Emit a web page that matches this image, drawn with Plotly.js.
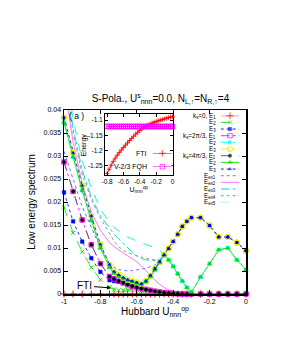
<!DOCTYPE html>
<html><head><meta charset="utf-8">
<script src="https://cdn.plot.ly/plotly-3.0.1.min.js"></script>
<style>html,body{margin:0;padding:0;background:#fff}#chart{width:284px;height:349px}</style>
</head><body><div id="chart"></div>
<script>
// ---------- main panel data ----------
const xMain = [-1,-0.95,-0.9,-0.85,-0.8,-0.75,-0.725,-0.7,-0.675,-0.65,-0.625,-0.6,-0.575,-0.55,-0.525,-0.5,-0.475,-0.45,-0.425,-0.4,-0.375,-0.35,-0.325,-0.3,-0.25,-0.2,-0.15,-0.1,-0.05,0];
const yE1k0 = [0,0,0,0,0,0,0,0,0,0,0,0,0,0,0,0,0,0,0,0,0,0,0,0,0,0,0,0,0,0];
const yE2k0 = [0.0188,0.0133,0.0092,0.0058,0.0031,0.0015,0.0010,0.0008,0.0008,0.0009,0.0010,0.0009,0.0007,0.0004,0.0002,0.0001,0,0,0,0,0,0,0,0,0,0,0,0,0,0];
const yE3k0 = [0.0221,0.0158,0.0114,0.0078,0.0048,0.0030,0.0028,0.0027,0.0026,0.0025,0.0024,0.0022,0.0020,0.0027,0.0040,0.0055,0.0070,0.0085,0.0099,0.0114,0.0130,0.0147,0.0158,0.0166,0.0166,0.0149,0.0124,0.0124,0.0112,0.0094];
const yE1k2 = [0.0287,0.0223,0.0161,0.0107,0.0066,0.0038,0.0033,0.0028,0.0024,0.0020,0.0017,0.0014,0.0012,0.0010,0.0008,0.0006,0.00045,0.0003,0.0002,0.0001,0.00005,0,0,0,0,0,0,0,0,0];
const yE2k2 = [0.0373,0.0298,0.0225,0.0160,0.0100,0.0058,0.0045,0.0038,0.0033,0.0029,0.0026,0.0023,0.0021,0.0026,0.0038,0.0052,0.0068,0.0086,0.0074,0.0060,0.0044,0.0028,0.0014,0.0004,0.0037,0.0066,0.0096,0.0100,0.0074,0.0053];
const yE3k2 = [0.0384,0.0307,0.0236,0.0170,0.0108,0.0064,0.0049,0.0042,0.0036,0.0031,0.0028,0.0025,0.0022,0.0028,0.0040,0.0055,0.0070,0.0085,0.0099,0.0114,0.0130,0.0147,0.0158,0.0166,0.0166,0.0149,0.0124,0.0124,0.0112,0.0094];
const yE1k4 = yE1k2.slice();
const yE2k4 = yE2k2.slice();
const yE3k4 = yE3k2.slice();
const yEex1 = [0.031,0.025,0.019,0.0145,0.0100,0.0068,0.0058,0.0053,0.0051,0.0050,0.0051,0.0052,0.0054,0.0056,0.0059,0.0063,0.0070,0.0085];
const yEex2 = [0.046,0.033,0.024,0.0178,0.0138,0.0112,0.0103,0.0095,0.0089,0.0083,0.0077,0.0070,0.0061,0.0050,0.0040,0.0030,0.0021,0.0014,0.0009,0.0005,0.0002,0.0001,0,0,0,0,0,0,0,0];
const yEex3 = [0.050,0.036,0.027,0.021,0.0170,0.0142,0.0130,0.0120,0.0110,0.0100,0.0091,0.0083,0.0077,0.0074,0.0073,0.0073,0.0076,0.0085];
const yEex4 = [0.047,0.035,0.026,0.0205,0.0165,0.0130,0.0115,0.0103,0.0095,0.0090,0.0086,0.0083,0.0080,0.0078,0.0076,0.0074,0.0074,0.0085];
const yEex5 = [0.052,0.038,0.029,0.023,0.0185,0.0155,0.0145,0.0137,0.0130,0.0124,0.0119,0.0115,0.0111,0.0108,0.0105,0.0101,0.0096,0.0085];
const xTickVals = [-1,-0.8,-0.6,-0.4,-0.2,0];
const xTickText = ['-1','-0.8','-0.6','-0.4','-0.2','0'];
const yTickVals = [0,0.005,0.01,0.015,0.02,0.025,0.03,0.035,0.04];
const yTickText = ['0','0.005','0.01','0.015','0.02','0.025','0.03','0.035','0.04'];
const legendLabels = ['k<sub>s</sub>=0, E<sub>1</sub>','E<sub>2</sub>','E<sub>3</sub>','k<sub>s</sub>=2π/3, E<sub>1</sub>','E<sub>2</sub>','E<sub>3</sub>','k<sub>s</sub>=4π/3, E<sub>1</sub>','E<sub>2</sub>','E<sub>3</sub>','E<sub>ex1</sub>','E<sub>ex2</sub>','E<sub>ex3</sub>','E<sub>ex4</sub>','E<sub>ex5</sub>'];

// ---------- inset data ----------
const xInset = [-0.8,-0.775,-0.75,-0.725,-0.7,-0.675,-0.65,-0.625,-0.6,-0.575,-0.55,-0.525,-0.5,-0.475,-0.45,-0.425,-0.4,-0.375,-0.35,-0.325,-0.3,-0.275,-0.25,-0.225,-0.2,-0.175,-0.15,-0.125,-0.1,-0.075,-0.05,-0.025,0];
const yFTI = [-1.275,-1.261,-1.248,-1.236,-1.225,-1.215,-1.206,-1.198,-1.190,-1.182,-1.175,-1.167,-1.160,-1.153,-1.146,-1.140,-1.134,-1.129,-1.124,-1.120,-1.116,-1.113,-1.110,-1.107,-1.105,-1.102,-1.100,-1.098,-1.096,-1.094,-1.092,-1.090,-1.089];
const yFQH = [-1.121,-1.121,-1.121,-1.121,-1.121,-1.121,-1.121,-1.121,-1.121,-1.121,-1.121,-1.121,-1.121,-1.121,-1.121,-1.121,-1.121,-1.121,-1.121,-1.121,-1.121,-1.121,-1.121,-1.121,-1.121,-1.121,-1.121,-1.121,-1.121,-1.121,-1.121,-1.121,-1.121];
const insetLabels = ['FTI','V-2/3 FQH'];
const insetXTicks = [-0.8,-0.6,-0.4,-0.2,0];
const insetXText = ['-0.8','-0.6','-0.4','-0.2','0'];
const insetYTicks = [-1.25,-1.2,-1.15,-1.1];
const insetYText = ['-1.25','-1.2','-1.15','-1.1'];

// ---------- styles ----------
const styles = [
  {y:yE1k0, color:'#ff0000', dash:'solid',   sym:'cross-thin-open', size:5, lw:1},
  {y:yE2k0, color:'#00e000', dash:'dash',    sym:'x-thin-open',     size:4, lw:1},
  {y:yE3k0, color:'#0000ff', dash:'dot',     sym:'square',          size:3.5, lw:0.5},
  {y:yE1k2, color:'#ff00ff', dash:'dashdot', sym:'square-open',     size:4.5, lw:1},
  {y:yE2k2, color:'#00ffff', dash:'dashdot', sym:'square',          size:3.5, lw:0.5},
  {y:yE3k2, color:'#eeee00', dash:'dashdot', sym:'circle-open',     size:5, lw:1.3},
  {y:yE1k4, color:'#000000', dash:'dash',    sym:'circle',          size:3.5, lw:0.5, lcolor:'#555555'},
  {y:yE2k4, color:'#00e000', dash:'solid',   sym:'triangle-up',     size:4, lw:0.5},
  {y:yE3k4, color:'#0000ff', dash:'dot',     sym:'triangle-up',     size:3, lw:0.5},
  {y:yEex1, color:'#6060ff', dash:'dot',     sym:null},
  {y:yEex2, color:'#ff66ff', dash:'solid',   sym:null},
  {y:yEex3, color:'#00cccc', dash:'dashdot', sym:null},
  {y:yEex4, color:'#888888', dash:'dot',     sym:null},
  {y:yEex5, color:'#00eeee', dash:'dash',    sym:null}
];

const data = [];
styles.forEach(s => {
  if (s.sym) return;
  data.push({type:'scatter', mode:'lines', x:xMain.slice(0, s.y.length), y:s.y,
    line:{color:s.color, width:0.9, dash:s.dash}, hoverinfo:'skip'});
});
styles.forEach(s => {
  if (!s.sym) return;
  data.push({type:'scatter', mode:'lines+markers', x:xMain, y:s.y, cliponaxis:false,
    line:{color:s.lcolor||s.color, width:0.8, dash:s.dash},
    marker:{symbol:s.sym, size:s.size, color:s.color, line:{color:s.color, width:s.lw}}});
});
// legend keys (helper axes x2/y2)
styles.forEach((s, i) => {
  const tr = {type:'scatter', xaxis:'x2', yaxis:'y2', x:[0,0.5,1], y:[i,i,i], cliponaxis:false,
    line:{color:s.lcolor||s.color, width:0.9, dash:s.dash}, hoverinfo:'skip'};
  if (s.sym) {
    tr.mode = 'lines+markers';
    tr.marker = {symbol:s.sym, size:[0,s.size,0], color:s.color, line:{color:s.color, width:s.lw}};
  } else tr.mode = 'lines';
  data.push(tr);
});
// inset
data.push({type:'scatter', mode:'lines+markers', xaxis:'x3', yaxis:'y3', x:xInset, y:yFTI, cliponaxis:false,
  line:{color:'#ff0000', width:0.9}, marker:{symbol:'cross-thin-open', size:3.5, color:'#ff0000', line:{color:'#ff0000', width:0.8}}});
data.push({type:'scatter', mode:'lines+markers', xaxis:'x3', yaxis:'y3', x:xInset, y:yFQH, cliponaxis:false,
  line:{color:'#ff00ff', width:0.9}, marker:{symbol:'square-open', size:4.5, color:'#ff00ff', line:{color:'#ff00ff', width:1}}});
[['#ff0000','cross-thin-open',4.5],['#ff00ff','square-open',4.5]].forEach((s,i)=>{
  data.push({type:'scatter', mode:'lines+markers', xaxis:'x4', yaxis:'y4', x:[0,0.5,1], y:[i,i,i], cliponaxis:false,
    line:{color:s[0], width:0.9}, marker:{symbol:s[1], size:[0,s[2],0], color:s[0], line:{color:s[0], width:1}}, hoverinfo:'skip'});
});

const annotations = [];
legendLabels.forEach((t,i)=>{
  annotations.push({xref:'paper', yref:'y2', x:0.846, y:i, xanchor:'right', yanchor:'middle', text:t, showarrow:false,
    font:{size:6.3, color:'#000'}});
});
insetLabels.forEach((t,i)=>{
  annotations.push({xref:'paper', yref:'y4', x:0.468, y:i, xanchor:'right', yanchor:'middle', text:t, showarrow:false,
    font:{size:7, color:'#000'}});
});
annotations.push({xref:'paper', yref:'paper', x:0.016, y:0.97, xanchor:'left', yanchor:'middle', text:'( a )', showarrow:false, font:{size:8.5}});
annotations.push({xref:'paper', yref:'paper', x:0.258, y:0.033, text:'FTI', showarrow:true, arrowhead:2, arrowsize:0.8, arrowwidth:1, arrowcolor:'#000',
  ax:-26, ay:-2, font:{size:10}});
annotations.push({xref:'paper', yref:'paper', x:0.112, y:0.81, xanchor:'center', yanchor:'middle', textangle:-90, text:'Energy', showarrow:false, font:{size:7}});

const layout = {
  width:284, height:349,
  margin:{l:64, r:38, t:110, b:55},
  paper_bgcolor:'#fff', plot_bgcolor:'#fff',
  showlegend:false,
  font:{family:'Liberation Sans, Arial, sans-serif', color:'#000'},
  title:{text:'S-Pola., U<sup>s</sup><sub>nnn</sub>=0.0, N<sub>L,↑</sub>=N<sub>R,↑</sub>=4',
    font:{size:10}, x:0.565, xanchor:'center', y:0.718, yanchor:'middle', yref:'container'},
  xaxis:{range:[-1,0], tickvals:xTickVals, ticktext:xTickText, ticks:'inside', ticklen:4, tickcolor:'#000',
    showline:true, mirror:'ticks', linecolor:'#000', linewidth:1.5, showgrid:false, zeroline:false,
    tickfont:{size:7}, title:{text:'Hubbard U<sub>nnn</sub><sup>op</sup>', font:{size:10}, standoff:3}},
  yaxis:{range:[0,0.04], tickvals:yTickVals, ticktext:yTickText, ticks:'inside', ticklen:4, tickcolor:'#000',
    showline:true, mirror:'ticks', linecolor:'#000', linewidth:1.5, showgrid:false, zeroline:false,
    tickfont:{size:7}, title:{text:'Low energy spectrum', font:{size:10}, standoff:6}},
  xaxis2:{domain:[0.861,0.963], anchor:'y2', range:[0,1], visible:false},
  yaxis2:{domain:[0.498,0.969], anchor:'x2', range:[13,0], visible:false},
  xaxis3:{domain:[0.2253,0.5962], anchor:'y3', range:[-0.825,0], tickvals:insetXTicks, ticktext:insetXText,
    ticks:'inside', ticklen:3, tickcolor:'#000', showline:true, mirror:'ticks', linecolor:'#000', linewidth:1,
    showgrid:false, zeroline:false, tickfont:{size:6.5}, title:{text:'U<sub>nnn</sub><sup>op</sup>', font:{size:7}, standoff:2}},
  yaxis3:{domain:[0.6467,0.9783], anchor:'x3', range:[-1.28,-1.08], tickvals:insetYTicks, ticktext:insetYText,
    ticks:'inside', ticklen:3, tickcolor:'#000', showline:true, mirror:'ticks', linecolor:'#000', linewidth:1,
    showgrid:false, zeroline:false, tickfont:{size:6.5}},
  xaxis4:{domain:[0.489,0.592], anchor:'y4', range:[0,1], visible:false},
  yaxis4:{domain:[0.6918,0.7647], anchor:'x4', range:[1,0], visible:false},
  annotations:annotations
};
Plotly.newPlot('chart', data, layout, {staticPlot:true, displayModeBar:false});
</script></body></html>
